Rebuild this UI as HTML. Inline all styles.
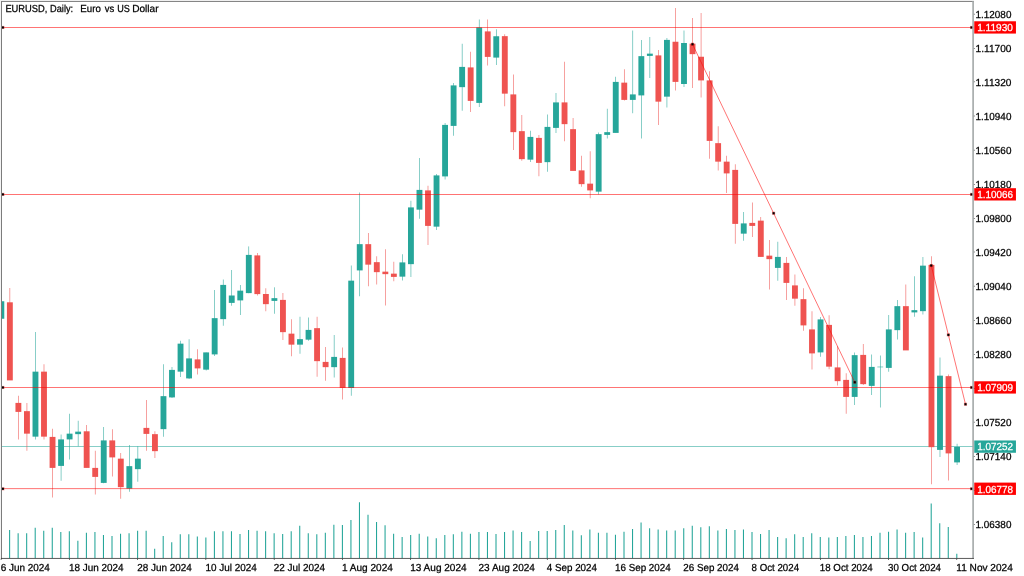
<!DOCTYPE html>
<html><head><meta charset="utf-8"><title>EURUSD Daily</title>
<style>html,body{margin:0;padding:0;background:#fff;overflow:hidden}svg{display:block}text{white-space:pre}</style></head>
<body>
<svg width="1024" height="576" viewBox="0 0 1024 576">
<rect width="1024" height="576" fill="#fff"/>
<defs><clipPath id="c"><rect x="1.5" y="1.5" width="972.00" height="556.90"/></clipPath></defs>
<g clip-path="url(#c)">
<rect x="1" y="446.39" width="973" height="0.55" fill="#26a69a"/>
<rect x="0.53" y="558.00" width="1.07" height="0.40" fill="#26a69a"/>
<rect x="9.07" y="530.00" width="1.07" height="28.40" fill="#26a69a"/>
<rect x="17.60" y="533.25" width="1.07" height="25.15" fill="#26a69a"/>
<rect x="26.13" y="533.25" width="1.07" height="25.15" fill="#26a69a"/>
<rect x="34.67" y="527.75" width="1.07" height="30.65" fill="#26a69a"/>
<rect x="43.20" y="530.75" width="1.07" height="27.65" fill="#26a69a"/>
<rect x="51.73" y="527.75" width="1.07" height="30.65" fill="#26a69a"/>
<rect x="60.27" y="532.00" width="1.07" height="26.40" fill="#26a69a"/>
<rect x="68.80" y="531.25" width="1.07" height="27.15" fill="#26a69a"/>
<rect x="77.33" y="540.75" width="1.07" height="17.65" fill="#26a69a"/>
<rect x="85.87" y="532.75" width="1.07" height="25.65" fill="#26a69a"/>
<rect x="94.40" y="532.00" width="1.07" height="26.40" fill="#26a69a"/>
<rect x="102.93" y="535.00" width="1.07" height="23.40" fill="#26a69a"/>
<rect x="111.47" y="536.00" width="1.07" height="22.40" fill="#26a69a"/>
<rect x="120.00" y="533.75" width="1.07" height="24.65" fill="#26a69a"/>
<rect x="128.53" y="533.25" width="1.07" height="25.15" fill="#26a69a"/>
<rect x="137.07" y="530.75" width="1.07" height="27.65" fill="#26a69a"/>
<rect x="145.60" y="530.75" width="1.07" height="27.65" fill="#26a69a"/>
<rect x="154.13" y="548.75" width="1.07" height="9.65" fill="#26a69a"/>
<rect x="162.67" y="536.00" width="1.07" height="22.40" fill="#26a69a"/>
<rect x="171.20" y="542.25" width="1.07" height="16.15" fill="#26a69a"/>
<rect x="179.73" y="534.25" width="1.07" height="24.15" fill="#26a69a"/>
<rect x="188.27" y="534.25" width="1.07" height="24.15" fill="#26a69a"/>
<rect x="196.80" y="536.50" width="1.07" height="21.90" fill="#26a69a"/>
<rect x="205.33" y="537.50" width="1.07" height="20.90" fill="#26a69a"/>
<rect x="213.87" y="531.25" width="1.07" height="27.15" fill="#26a69a"/>
<rect x="222.40" y="531.25" width="1.07" height="27.15" fill="#26a69a"/>
<rect x="230.93" y="531.25" width="1.07" height="27.15" fill="#26a69a"/>
<rect x="239.47" y="534.00" width="1.07" height="24.40" fill="#26a69a"/>
<rect x="248.00" y="530.00" width="1.07" height="28.40" fill="#26a69a"/>
<rect x="256.53" y="530.75" width="1.07" height="27.65" fill="#26a69a"/>
<rect x="265.07" y="531.25" width="1.07" height="27.15" fill="#26a69a"/>
<rect x="273.60" y="533.25" width="1.07" height="25.15" fill="#26a69a"/>
<rect x="282.13" y="534.00" width="1.07" height="24.40" fill="#26a69a"/>
<rect x="290.67" y="531.25" width="1.07" height="27.15" fill="#26a69a"/>
<rect x="299.20" y="525.75" width="1.07" height="32.65" fill="#26a69a"/>
<rect x="307.73" y="533.25" width="1.07" height="25.15" fill="#26a69a"/>
<rect x="316.27" y="534.25" width="1.07" height="24.15" fill="#26a69a"/>
<rect x="324.80" y="532.75" width="1.07" height="25.65" fill="#26a69a"/>
<rect x="333.33" y="524.75" width="1.07" height="33.65" fill="#26a69a"/>
<rect x="341.87" y="525.00" width="1.07" height="33.40" fill="#26a69a"/>
<rect x="350.40" y="520.00" width="1.07" height="38.40" fill="#26a69a"/>
<rect x="358.93" y="502.25" width="1.07" height="56.15" fill="#26a69a"/>
<rect x="367.47" y="514.75" width="1.07" height="43.65" fill="#26a69a"/>
<rect x="376.00" y="522.00" width="1.07" height="36.40" fill="#26a69a"/>
<rect x="384.53" y="525.25" width="1.07" height="33.15" fill="#26a69a"/>
<rect x="393.07" y="533.75" width="1.07" height="24.65" fill="#26a69a"/>
<rect x="401.60" y="537.00" width="1.07" height="21.40" fill="#26a69a"/>
<rect x="410.13" y="535.00" width="1.07" height="23.40" fill="#26a69a"/>
<rect x="418.67" y="533.75" width="1.07" height="24.65" fill="#26a69a"/>
<rect x="427.20" y="536.50" width="1.07" height="21.90" fill="#26a69a"/>
<rect x="435.73" y="538.25" width="1.07" height="20.15" fill="#26a69a"/>
<rect x="444.27" y="535.00" width="1.07" height="23.40" fill="#26a69a"/>
<rect x="452.80" y="534.25" width="1.07" height="24.15" fill="#26a69a"/>
<rect x="461.33" y="531.75" width="1.07" height="26.65" fill="#26a69a"/>
<rect x="469.87" y="533.75" width="1.07" height="24.65" fill="#26a69a"/>
<rect x="478.40" y="532.00" width="1.07" height="26.40" fill="#26a69a"/>
<rect x="486.93" y="532.00" width="1.07" height="26.40" fill="#26a69a"/>
<rect x="495.47" y="534.00" width="1.07" height="24.40" fill="#26a69a"/>
<rect x="504.00" y="532.00" width="1.07" height="26.40" fill="#26a69a"/>
<rect x="512.53" y="530.50" width="1.07" height="27.90" fill="#26a69a"/>
<rect x="521.07" y="532.00" width="1.07" height="26.40" fill="#26a69a"/>
<rect x="529.60" y="541.00" width="1.07" height="17.40" fill="#26a69a"/>
<rect x="538.13" y="531.00" width="1.07" height="27.40" fill="#26a69a"/>
<rect x="546.67" y="531.00" width="1.07" height="27.40" fill="#26a69a"/>
<rect x="555.20" y="530.00" width="1.07" height="28.40" fill="#26a69a"/>
<rect x="563.73" y="525.00" width="1.07" height="33.40" fill="#26a69a"/>
<rect x="572.27" y="530.50" width="1.07" height="27.90" fill="#26a69a"/>
<rect x="580.80" y="535.25" width="1.07" height="23.15" fill="#26a69a"/>
<rect x="589.33" y="529.50" width="1.07" height="28.90" fill="#26a69a"/>
<rect x="597.87" y="532.75" width="1.07" height="25.65" fill="#26a69a"/>
<rect x="606.40" y="532.75" width="1.07" height="25.65" fill="#26a69a"/>
<rect x="614.93" y="534.75" width="1.07" height="23.65" fill="#26a69a"/>
<rect x="623.47" y="531.75" width="1.07" height="26.65" fill="#26a69a"/>
<rect x="632.00" y="529.00" width="1.07" height="29.40" fill="#26a69a"/>
<rect x="640.53" y="522.50" width="1.07" height="35.90" fill="#26a69a"/>
<rect x="649.07" y="528.25" width="1.07" height="30.15" fill="#26a69a"/>
<rect x="657.60" y="529.50" width="1.07" height="28.90" fill="#26a69a"/>
<rect x="666.13" y="530.50" width="1.07" height="27.90" fill="#26a69a"/>
<rect x="674.67" y="530.50" width="1.07" height="27.90" fill="#26a69a"/>
<rect x="683.20" y="528.25" width="1.07" height="30.15" fill="#26a69a"/>
<rect x="691.73" y="525.75" width="1.07" height="32.65" fill="#26a69a"/>
<rect x="700.27" y="527.25" width="1.07" height="31.15" fill="#26a69a"/>
<rect x="708.80" y="526.25" width="1.07" height="32.15" fill="#26a69a"/>
<rect x="717.33" y="530.50" width="1.07" height="27.90" fill="#26a69a"/>
<rect x="725.87" y="529.00" width="1.07" height="29.40" fill="#26a69a"/>
<rect x="734.40" y="530.00" width="1.07" height="28.40" fill="#26a69a"/>
<rect x="742.93" y="529.50" width="1.07" height="28.90" fill="#26a69a"/>
<rect x="751.47" y="532.00" width="1.07" height="26.40" fill="#26a69a"/>
<rect x="760.00" y="534.00" width="1.07" height="24.40" fill="#26a69a"/>
<rect x="768.53" y="530.00" width="1.07" height="28.40" fill="#26a69a"/>
<rect x="777.07" y="537.00" width="1.07" height="21.40" fill="#26a69a"/>
<rect x="785.60" y="538.25" width="1.07" height="20.15" fill="#26a69a"/>
<rect x="794.13" y="534.25" width="1.07" height="24.15" fill="#26a69a"/>
<rect x="802.67" y="537.00" width="1.07" height="21.40" fill="#26a69a"/>
<rect x="811.20" y="533.25" width="1.07" height="25.15" fill="#26a69a"/>
<rect x="819.73" y="537.00" width="1.07" height="21.40" fill="#26a69a"/>
<rect x="828.27" y="537.50" width="1.07" height="20.90" fill="#26a69a"/>
<rect x="836.80" y="537.00" width="1.07" height="21.40" fill="#26a69a"/>
<rect x="845.33" y="536.00" width="1.07" height="22.40" fill="#26a69a"/>
<rect x="853.87" y="535.00" width="1.07" height="23.40" fill="#26a69a"/>
<rect x="862.40" y="537.00" width="1.07" height="21.40" fill="#26a69a"/>
<rect x="870.93" y="536.00" width="1.07" height="22.40" fill="#26a69a"/>
<rect x="879.47" y="532.75" width="1.07" height="25.65" fill="#26a69a"/>
<rect x="888.00" y="531.75" width="1.07" height="26.65" fill="#26a69a"/>
<rect x="896.53" y="529.50" width="1.07" height="28.90" fill="#26a69a"/>
<rect x="905.07" y="532.75" width="1.07" height="25.65" fill="#26a69a"/>
<rect x="913.60" y="532.00" width="1.07" height="26.40" fill="#26a69a"/>
<rect x="922.13" y="537.50" width="1.07" height="20.90" fill="#26a69a"/>
<rect x="930.67" y="503.50" width="1.07" height="54.90" fill="#26a69a"/>
<rect x="939.20" y="523.25" width="1.07" height="35.15" fill="#26a69a"/>
<rect x="947.73" y="527.00" width="1.07" height="31.40" fill="#26a69a"/>
<rect x="956.27" y="553.75" width="1.07" height="4.65" fill="#26a69a"/>
<rect x="1.06" y="301.25" width="0.55" height="17.50" fill="#26a69a"/>
<rect x="-1.60" y="301.25" width="5.87" height="17.50" fill="#26a69a"/>
<rect x="9.59" y="288.00" width="0.55" height="92.00" fill="#ef5350"/>
<rect x="6.93" y="302.30" width="5.87" height="78.10" fill="#ef5350"/>
<rect x="18.12" y="395.75" width="0.55" height="43.75" fill="#ef5350"/>
<rect x="15.46" y="402.90" width="5.87" height="9.00" fill="#ef5350"/>
<rect x="26.66" y="403.00" width="0.55" height="47.75" fill="#ef5350"/>
<rect x="24.00" y="411.15" width="5.87" height="22.50" fill="#ef5350"/>
<rect x="35.19" y="332.00" width="0.55" height="107.50" fill="#26a69a"/>
<rect x="32.53" y="371.65" width="5.87" height="65.00" fill="#26a69a"/>
<rect x="43.72" y="364.25" width="0.55" height="75.25" fill="#ef5350"/>
<rect x="41.06" y="371.65" width="5.87" height="65.00" fill="#ef5350"/>
<rect x="52.26" y="428.75" width="0.55" height="68.75" fill="#ef5350"/>
<rect x="49.60" y="436.90" width="5.87" height="31.00" fill="#ef5350"/>
<rect x="60.79" y="434.50" width="0.55" height="46.25" fill="#26a69a"/>
<rect x="58.13" y="439.40" width="5.87" height="26.50" fill="#26a69a"/>
<rect x="69.32" y="413.75" width="0.55" height="45.75" fill="#26a69a"/>
<rect x="66.66" y="433.65" width="5.87" height="5.75" fill="#26a69a"/>
<rect x="77.86" y="420.75" width="0.55" height="25.50" fill="#26a69a"/>
<rect x="75.20" y="431.65" width="5.87" height="2.50" fill="#26a69a"/>
<rect x="86.39" y="425.00" width="0.55" height="42.50" fill="#ef5350"/>
<rect x="83.73" y="431.30" width="5.87" height="36.60" fill="#ef5350"/>
<rect x="94.92" y="450.75" width="0.55" height="43.75" fill="#ef5350"/>
<rect x="92.26" y="467.90" width="5.87" height="9.00" fill="#ef5350"/>
<rect x="103.46" y="427.00" width="0.55" height="56.25" fill="#26a69a"/>
<rect x="100.80" y="440.40" width="5.87" height="42.50" fill="#26a69a"/>
<rect x="111.99" y="429.25" width="0.55" height="47.25" fill="#ef5350"/>
<rect x="109.33" y="440.40" width="5.87" height="17.00" fill="#ef5350"/>
<rect x="120.52" y="453.00" width="0.55" height="45.75" fill="#ef5350"/>
<rect x="117.86" y="458.65" width="5.87" height="28.50" fill="#ef5350"/>
<rect x="129.06" y="445.00" width="0.55" height="46.75" fill="#26a69a"/>
<rect x="126.40" y="466.15" width="5.87" height="22.50" fill="#26a69a"/>
<rect x="137.59" y="446.25" width="0.55" height="35.50" fill="#26a69a"/>
<rect x="134.93" y="458.65" width="5.87" height="10.50" fill="#26a69a"/>
<rect x="146.12" y="400.00" width="0.55" height="50.75" fill="#ef5350"/>
<rect x="143.46" y="427.90" width="5.87" height="6.00" fill="#ef5350"/>
<rect x="154.66" y="431.25" width="0.55" height="26.75" fill="#ef5350"/>
<rect x="152.00" y="434.15" width="5.87" height="17.00" fill="#ef5350"/>
<rect x="163.19" y="364.25" width="0.55" height="72.50" fill="#26a69a"/>
<rect x="160.53" y="396.15" width="5.87" height="33.00" fill="#26a69a"/>
<rect x="171.72" y="367.00" width="0.55" height="31.00" fill="#26a69a"/>
<rect x="169.06" y="369.90" width="5.87" height="27.50" fill="#26a69a"/>
<rect x="180.26" y="340.75" width="0.55" height="36.25" fill="#26a69a"/>
<rect x="177.60" y="343.65" width="5.87" height="28.00" fill="#26a69a"/>
<rect x="188.79" y="339.25" width="0.55" height="39.75" fill="#26a69a"/>
<rect x="186.13" y="358.40" width="5.87" height="20.00" fill="#26a69a"/>
<rect x="197.32" y="349.25" width="0.55" height="25.25" fill="#ef5350"/>
<rect x="194.66" y="359.40" width="5.87" height="9.00" fill="#ef5350"/>
<rect x="205.86" y="352.50" width="0.55" height="18.00" fill="#26a69a"/>
<rect x="203.20" y="352.40" width="5.87" height="17.25" fill="#26a69a"/>
<rect x="214.39" y="290.00" width="0.55" height="66.00" fill="#26a69a"/>
<rect x="211.73" y="318.15" width="5.87" height="36.25" fill="#26a69a"/>
<rect x="222.92" y="279.50" width="0.55" height="46.25" fill="#26a69a"/>
<rect x="220.26" y="284.90" width="5.87" height="34.25" fill="#26a69a"/>
<rect x="231.46" y="270.00" width="0.55" height="35.75" fill="#26a69a"/>
<rect x="228.80" y="295.50" width="5.87" height="7.40" fill="#26a69a"/>
<rect x="239.99" y="285.00" width="0.55" height="30.00" fill="#26a69a"/>
<rect x="237.33" y="290.65" width="5.87" height="9.75" fill="#26a69a"/>
<rect x="248.52" y="246.40" width="0.55" height="46.85" fill="#26a69a"/>
<rect x="245.86" y="254.90" width="5.87" height="38.20" fill="#26a69a"/>
<rect x="257.06" y="253.00" width="0.55" height="42.50" fill="#ef5350"/>
<rect x="254.40" y="255.40" width="5.87" height="38.70" fill="#ef5350"/>
<rect x="265.59" y="288.25" width="0.55" height="23.00" fill="#ef5350"/>
<rect x="262.93" y="294.00" width="5.87" height="10.15" fill="#ef5350"/>
<rect x="274.12" y="287.30" width="0.55" height="26.45" fill="#26a69a"/>
<rect x="271.46" y="298.15" width="5.87" height="2.75" fill="#26a69a"/>
<rect x="282.66" y="293.00" width="0.55" height="47.00" fill="#ef5350"/>
<rect x="280.00" y="299.90" width="5.87" height="32.25" fill="#ef5350"/>
<rect x="291.19" y="319.25" width="0.55" height="37.00" fill="#ef5350"/>
<rect x="288.53" y="333.65" width="5.87" height="11.00" fill="#ef5350"/>
<rect x="299.72" y="316.75" width="0.55" height="37.00" fill="#26a69a"/>
<rect x="297.06" y="339.15" width="5.87" height="5.50" fill="#26a69a"/>
<rect x="308.26" y="317.50" width="0.55" height="23.25" fill="#26a69a"/>
<rect x="305.60" y="329.90" width="5.87" height="9.75" fill="#26a69a"/>
<rect x="316.79" y="316.75" width="0.55" height="60.00" fill="#ef5350"/>
<rect x="314.13" y="328.15" width="5.87" height="33.00" fill="#ef5350"/>
<rect x="325.32" y="347.00" width="0.55" height="33.75" fill="#ef5350"/>
<rect x="322.66" y="361.90" width="5.87" height="5.25" fill="#ef5350"/>
<rect x="333.86" y="335.00" width="0.55" height="42.50" fill="#26a69a"/>
<rect x="331.20" y="356.90" width="5.87" height="10.25" fill="#26a69a"/>
<rect x="342.39" y="347.50" width="0.55" height="52.00" fill="#ef5350"/>
<rect x="339.73" y="357.90" width="5.87" height="30.00" fill="#ef5350"/>
<rect x="350.92" y="265.50" width="0.55" height="130.25" fill="#26a69a"/>
<rect x="348.26" y="280.65" width="5.87" height="107.35" fill="#26a69a"/>
<rect x="359.46" y="192.50" width="0.55" height="103.75" fill="#26a69a"/>
<rect x="356.80" y="244.15" width="5.87" height="26.25" fill="#26a69a"/>
<rect x="367.99" y="233.00" width="0.55" height="53.25" fill="#ef5350"/>
<rect x="365.33" y="244.15" width="5.87" height="20.50" fill="#ef5350"/>
<rect x="376.52" y="256.25" width="0.55" height="28.25" fill="#ef5350"/>
<rect x="373.86" y="262.15" width="5.87" height="10.00" fill="#ef5350"/>
<rect x="385.06" y="249.25" width="0.55" height="56.25" fill="#ef5350"/>
<rect x="382.40" y="271.65" width="5.87" height="2.50" fill="#ef5350"/>
<rect x="393.59" y="261.75" width="0.55" height="19.50" fill="#ef5350"/>
<rect x="390.93" y="273.65" width="5.87" height="3.25" fill="#ef5350"/>
<rect x="402.12" y="254.25" width="0.55" height="26.25" fill="#26a69a"/>
<rect x="399.46" y="262.40" width="5.87" height="14.25" fill="#26a69a"/>
<rect x="410.66" y="200.75" width="0.55" height="76.25" fill="#26a69a"/>
<rect x="408.00" y="207.40" width="5.87" height="56.75" fill="#26a69a"/>
<rect x="419.19" y="158.00" width="0.55" height="60.75" fill="#26a69a"/>
<rect x="416.53" y="189.90" width="5.87" height="19.75" fill="#26a69a"/>
<rect x="427.72" y="185.75" width="0.55" height="59.25" fill="#ef5350"/>
<rect x="425.06" y="190.40" width="5.87" height="35.50" fill="#ef5350"/>
<rect x="436.26" y="174.00" width="0.55" height="56.00" fill="#26a69a"/>
<rect x="433.60" y="175.40" width="5.87" height="51.25" fill="#26a69a"/>
<rect x="444.79" y="123.00" width="0.55" height="56.50" fill="#26a69a"/>
<rect x="442.13" y="124.90" width="5.87" height="51.50" fill="#26a69a"/>
<rect x="453.32" y="83.00" width="0.55" height="52.75" fill="#26a69a"/>
<rect x="450.66" y="85.40" width="5.87" height="40.50" fill="#26a69a"/>
<rect x="461.86" y="43.75" width="0.55" height="67.00" fill="#26a69a"/>
<rect x="459.20" y="66.90" width="5.87" height="20.25" fill="#26a69a"/>
<rect x="470.39" y="51.75" width="0.55" height="60.25" fill="#ef5350"/>
<rect x="467.73" y="67.40" width="5.87" height="33.50" fill="#ef5350"/>
<rect x="478.92" y="19.50" width="0.55" height="87.50" fill="#26a69a"/>
<rect x="476.26" y="27.40" width="5.87" height="75.50" fill="#26a69a"/>
<rect x="487.46" y="19.50" width="0.55" height="46.00" fill="#ef5350"/>
<rect x="484.80" y="31.40" width="5.87" height="25.50" fill="#ef5350"/>
<rect x="495.99" y="29.25" width="0.55" height="35.75" fill="#26a69a"/>
<rect x="493.33" y="36.25" width="5.87" height="21.35" fill="#26a69a"/>
<rect x="504.52" y="34.25" width="0.55" height="72.00" fill="#ef5350"/>
<rect x="501.86" y="36.15" width="5.87" height="57.50" fill="#ef5350"/>
<rect x="513.06" y="74.50" width="0.55" height="75.50" fill="#ef5350"/>
<rect x="510.40" y="94.40" width="5.87" height="37.75" fill="#ef5350"/>
<rect x="521.59" y="115.00" width="0.55" height="45.75" fill="#ef5350"/>
<rect x="518.93" y="131.15" width="5.87" height="28.00" fill="#ef5350"/>
<rect x="530.12" y="130.75" width="0.55" height="31.25" fill="#26a69a"/>
<rect x="527.46" y="136.90" width="5.87" height="22.75" fill="#26a69a"/>
<rect x="538.66" y="135.00" width="0.55" height="41.25" fill="#ef5350"/>
<rect x="536.00" y="137.90" width="5.87" height="25.00" fill="#ef5350"/>
<rect x="547.19" y="114.50" width="0.55" height="57.25" fill="#26a69a"/>
<rect x="544.53" y="126.90" width="5.87" height="35.25" fill="#26a69a"/>
<rect x="555.72" y="93.00" width="0.55" height="40.00" fill="#26a69a"/>
<rect x="553.06" y="102.40" width="5.87" height="25.50" fill="#26a69a"/>
<rect x="564.26" y="61.75" width="0.55" height="79.50" fill="#ef5350"/>
<rect x="561.60" y="102.40" width="5.87" height="21.75" fill="#ef5350"/>
<rect x="572.79" y="118.00" width="0.55" height="52.50" fill="#ef5350"/>
<rect x="570.13" y="129.15" width="5.87" height="41.75" fill="#ef5350"/>
<rect x="581.32" y="155.75" width="0.55" height="31.00" fill="#ef5350"/>
<rect x="578.66" y="170.40" width="5.87" height="13.75" fill="#ef5350"/>
<rect x="589.86" y="151.25" width="0.55" height="47.00" fill="#ef5350"/>
<rect x="587.20" y="183.65" width="5.87" height="6.75" fill="#ef5350"/>
<rect x="598.39" y="132.50" width="0.55" height="62.00" fill="#26a69a"/>
<rect x="595.73" y="134.15" width="5.87" height="57.50" fill="#26a69a"/>
<rect x="606.92" y="108.75" width="0.55" height="29.75" fill="#26a69a"/>
<rect x="604.26" y="132.15" width="5.87" height="2.75" fill="#26a69a"/>
<rect x="615.46" y="76.75" width="0.55" height="55.75" fill="#26a69a"/>
<rect x="612.80" y="81.90" width="5.87" height="51.00" fill="#26a69a"/>
<rect x="623.99" y="69.25" width="0.55" height="31.25" fill="#ef5350"/>
<rect x="621.33" y="82.65" width="5.87" height="17.25" fill="#ef5350"/>
<rect x="632.52" y="30.50" width="0.55" height="82.75" fill="#26a69a"/>
<rect x="629.86" y="94.40" width="5.87" height="5.50" fill="#26a69a"/>
<rect x="641.06" y="40.00" width="0.55" height="98.50" fill="#26a69a"/>
<rect x="638.40" y="56.15" width="5.87" height="39.25" fill="#26a69a"/>
<rect x="649.59" y="37.00" width="0.55" height="41.00" fill="#26a69a"/>
<rect x="646.93" y="53.65" width="5.87" height="2.25" fill="#26a69a"/>
<rect x="658.12" y="50.00" width="0.55" height="75.00" fill="#ef5350"/>
<rect x="655.46" y="55.40" width="5.87" height="46.25" fill="#ef5350"/>
<rect x="666.66" y="38.00" width="0.55" height="69.50" fill="#26a69a"/>
<rect x="664.00" y="39.90" width="5.87" height="56.75" fill="#26a69a"/>
<rect x="675.19" y="8.00" width="0.55" height="82.50" fill="#ef5350"/>
<rect x="672.53" y="41.75" width="5.87" height="40.15" fill="#ef5350"/>
<rect x="683.72" y="30.50" width="0.55" height="56.50" fill="#26a69a"/>
<rect x="681.06" y="43.00" width="5.87" height="41.00" fill="#26a69a"/>
<rect x="692.26" y="18.00" width="0.55" height="70.00" fill="#ef5350"/>
<rect x="689.60" y="43.65" width="5.87" height="10.50" fill="#ef5350"/>
<rect x="700.79" y="13.00" width="0.55" height="84.50" fill="#ef5350"/>
<rect x="698.13" y="56.75" width="5.87" height="23.65" fill="#ef5350"/>
<rect x="709.32" y="71.25" width="0.55" height="87.50" fill="#ef5350"/>
<rect x="706.66" y="80.40" width="5.87" height="60.50" fill="#ef5350"/>
<rect x="717.86" y="126.25" width="0.55" height="44.25" fill="#ef5350"/>
<rect x="715.20" y="143.15" width="5.87" height="18.50" fill="#ef5350"/>
<rect x="726.39" y="155.75" width="0.55" height="37.25" fill="#ef5350"/>
<rect x="723.73" y="161.65" width="5.87" height="11.75" fill="#ef5350"/>
<rect x="734.92" y="164.25" width="0.55" height="79.50" fill="#ef5350"/>
<rect x="732.26" y="169.90" width="5.87" height="54.00" fill="#ef5350"/>
<rect x="743.46" y="212.00" width="0.55" height="28.75" fill="#26a69a"/>
<rect x="740.80" y="223.40" width="5.87" height="10.25" fill="#26a69a"/>
<rect x="751.99" y="202.50" width="0.55" height="34.50" fill="#ef5350"/>
<rect x="749.33" y="222.90" width="5.87" height="3.00" fill="#ef5350"/>
<rect x="760.52" y="217.00" width="0.55" height="39.50" fill="#ef5350"/>
<rect x="757.86" y="220.65" width="5.87" height="36.25" fill="#ef5350"/>
<rect x="769.06" y="240.00" width="0.55" height="49.50" fill="#ef5350"/>
<rect x="766.40" y="255.65" width="5.87" height="3.50" fill="#ef5350"/>
<rect x="777.59" y="241.75" width="0.55" height="39.00" fill="#26a69a"/>
<rect x="774.93" y="256.90" width="5.87" height="11.00" fill="#26a69a"/>
<rect x="786.12" y="257.00" width="0.55" height="43.00" fill="#ef5350"/>
<rect x="783.46" y="262.90" width="5.87" height="20.00" fill="#ef5350"/>
<rect x="794.66" y="274.50" width="0.55" height="31.25" fill="#ef5350"/>
<rect x="792.00" y="285.40" width="5.87" height="13.25" fill="#ef5350"/>
<rect x="803.19" y="288.25" width="0.55" height="42.50" fill="#ef5350"/>
<rect x="800.53" y="299.15" width="5.87" height="26.25" fill="#ef5350"/>
<rect x="811.72" y="311.25" width="0.55" height="58.25" fill="#ef5350"/>
<rect x="809.06" y="329.40" width="5.87" height="24.00" fill="#ef5350"/>
<rect x="820.26" y="317.00" width="0.55" height="39.75" fill="#26a69a"/>
<rect x="817.60" y="319.40" width="5.87" height="33.00" fill="#26a69a"/>
<rect x="828.79" y="315.25" width="0.55" height="54.00" fill="#ef5350"/>
<rect x="826.13" y="324.90" width="5.87" height="41.75" fill="#ef5350"/>
<rect x="837.32" y="346.25" width="0.55" height="39.25" fill="#ef5350"/>
<rect x="834.66" y="367.40" width="5.87" height="13.75" fill="#ef5350"/>
<rect x="845.86" y="373.25" width="0.55" height="40.50" fill="#ef5350"/>
<rect x="843.20" y="379.90" width="5.87" height="17.00" fill="#ef5350"/>
<rect x="854.39" y="352.50" width="0.55" height="52.50" fill="#26a69a"/>
<rect x="851.73" y="355.15" width="5.87" height="41.75" fill="#26a69a"/>
<rect x="862.92" y="344.00" width="0.55" height="41.00" fill="#ef5350"/>
<rect x="860.26" y="354.90" width="5.87" height="29.25" fill="#ef5350"/>
<rect x="871.46" y="354.50" width="0.55" height="40.50" fill="#26a69a"/>
<rect x="868.80" y="366.90" width="5.87" height="19.00" fill="#26a69a"/>
<rect x="879.99" y="355.50" width="0.55" height="52.00" fill="#26a69a"/>
<rect x="877.33" y="366.70" width="5.87" height="0.55" fill="#26a69a"/>
<rect x="888.52" y="315.00" width="0.55" height="56.75" fill="#26a69a"/>
<rect x="885.86" y="329.40" width="5.87" height="38.50" fill="#26a69a"/>
<rect x="897.06" y="300.00" width="0.55" height="39.50" fill="#26a69a"/>
<rect x="894.40" y="306.15" width="5.87" height="24.00" fill="#26a69a"/>
<rect x="905.59" y="284.50" width="0.55" height="65.50" fill="#ef5350"/>
<rect x="902.93" y="306.15" width="5.87" height="44.25" fill="#ef5350"/>
<rect x="914.12" y="276.25" width="0.55" height="40.50" fill="#26a69a"/>
<rect x="911.46" y="310.15" width="5.87" height="2.25" fill="#26a69a"/>
<rect x="922.66" y="257.00" width="0.55" height="57.50" fill="#26a69a"/>
<rect x="920.00" y="265.65" width="5.87" height="45.50" fill="#26a69a"/>
<rect x="931.19" y="256.25" width="0.55" height="228.00" fill="#ef5350"/>
<rect x="928.53" y="264.90" width="5.87" height="182.25" fill="#ef5350"/>
<rect x="939.72" y="357.50" width="0.55" height="99.50" fill="#26a69a"/>
<rect x="937.06" y="375.65" width="5.87" height="74.25" fill="#26a69a"/>
<rect x="948.26" y="374.50" width="0.55" height="106.00" fill="#ef5350"/>
<rect x="945.60" y="376.15" width="5.87" height="77.25" fill="#ef5350"/>
<rect x="956.79" y="443.75" width="0.55" height="21.25" fill="#26a69a"/>
<rect x="954.13" y="446.90" width="5.87" height="15.50" fill="#26a69a"/>
<rect x="1" y="27.19" width="973" height="0.55" fill="#ff0000"/>
<rect x="1" y="194.12" width="973" height="0.55" fill="#ff0000"/>
<rect x="1" y="387.19" width="973" height="0.55" fill="#ff0000"/>
<rect x="1" y="488.52" width="973" height="0.55" fill="#ff0000"/>
<line x1="692.50" y1="44.25" x2="854.75" y2="382.25" stroke="#ff0000" stroke-width="0.55"/>
<rect x="690.95" y="42.70" width="3.1" height="3.1" fill="#d00000" opacity="0.45"/>
<rect x="691.45" y="43.20" width="2.1" height="2.1" fill="#000"/>
<rect x="772.08" y="211.70" width="3.1" height="3.1" fill="#d00000" opacity="0.45"/>
<rect x="772.58" y="212.20" width="2.1" height="2.1" fill="#000"/>
<rect x="853.20" y="380.70" width="3.1" height="3.1" fill="#d00000" opacity="0.45"/>
<rect x="853.70" y="381.20" width="2.1" height="2.1" fill="#000"/>
<line x1="931.25" y1="265.50" x2="965.50" y2="404.25" stroke="#ff0000" stroke-width="0.55"/>
<rect x="929.70" y="263.95" width="3.1" height="3.1" fill="#d00000" opacity="0.45"/>
<rect x="930.20" y="264.45" width="2.1" height="2.1" fill="#000"/>
<rect x="946.83" y="333.32" width="3.1" height="3.1" fill="#d00000" opacity="0.45"/>
<rect x="947.33" y="333.82" width="2.1" height="2.1" fill="#000"/>
<rect x="963.95" y="402.70" width="3.1" height="3.1" fill="#d00000" opacity="0.45"/>
<rect x="964.45" y="403.20" width="2.1" height="2.1" fill="#000"/>
</g>
<rect x="1.4" y="25.92" width="3.0" height="3.1" fill="#d00000" opacity="0.45"/>
<rect x="1.8" y="26.42" width="2.1" height="2.1" fill="#000"/>
<rect x="970.0" y="25.92" width="3.1" height="3.1" fill="#d00000" opacity="0.45"/>
<rect x="970.5" y="26.42" width="2.1" height="2.1" fill="#000"/>
<rect x="1.4" y="192.85" width="3.0" height="3.1" fill="#d00000" opacity="0.45"/>
<rect x="1.8" y="193.35" width="2.1" height="2.1" fill="#000"/>
<rect x="970.0" y="192.85" width="3.1" height="3.1" fill="#d00000" opacity="0.45"/>
<rect x="970.5" y="193.35" width="2.1" height="2.1" fill="#000"/>
<rect x="1.4" y="385.92" width="3.0" height="3.1" fill="#d00000" opacity="0.45"/>
<rect x="1.8" y="386.42" width="2.1" height="2.1" fill="#000"/>
<rect x="970.0" y="385.92" width="3.1" height="3.1" fill="#d00000" opacity="0.45"/>
<rect x="970.5" y="386.42" width="2.1" height="2.1" fill="#000"/>
<rect x="1.4" y="487.25" width="3.0" height="3.1" fill="#d00000" opacity="0.45"/>
<rect x="1.8" y="487.75" width="2.1" height="2.1" fill="#000"/>
<rect x="970.0" y="487.25" width="3.1" height="3.1" fill="#d00000" opacity="0.45"/>
<rect x="970.5" y="487.75" width="2.1" height="2.1" fill="#000"/>
<rect x="0" y="0" width="974" height="1" fill="#f0f0f0"/>
<rect x="0" y="0" width="1" height="559" fill="#f4f4f4"/>
<rect x="1" y="1" width="973" height="1" fill="#858585"/>
<rect x="1" y="1" width="1" height="557.80" fill="#7c7c7c"/>
<rect x="972.3" y="1" width="1.6" height="557.80" fill="#a3a8a8"/>
<rect x="1" y="557.95" width="972.9" height="0.8" fill="#333"/>
<g font-family="Liberation Sans, sans-serif" font-size="10.2" stroke-width="0.25" text-rendering="geometricPrecision">
<rect x="973.9" y="13.85" width="0.9" height="0.55" fill="#000"/>
<text x="975.60" y="17.88" textLength="35.79" lengthAdjust="spacingAndGlyphs" fill="#000" stroke="#000">1.12080</text>
<rect x="973.9" y="47.99" width="0.9" height="0.55" fill="#000"/>
<text x="975.60" y="52.02" textLength="35.79" lengthAdjust="spacingAndGlyphs" fill="#000" stroke="#000">1.11700</text>
<rect x="973.9" y="81.59" width="0.9" height="0.55" fill="#000"/>
<text x="975.60" y="85.62" textLength="35.79" lengthAdjust="spacingAndGlyphs" fill="#000" stroke="#000">1.11320</text>
<rect x="973.9" y="115.72" width="0.9" height="0.55" fill="#000"/>
<text x="975.60" y="119.75" textLength="35.79" lengthAdjust="spacingAndGlyphs" fill="#000" stroke="#000">1.10940</text>
<rect x="973.9" y="149.85" width="0.9" height="0.55" fill="#000"/>
<text x="975.60" y="153.88" textLength="35.79" lengthAdjust="spacingAndGlyphs" fill="#000" stroke="#000">1.10560</text>
<rect x="973.9" y="183.99" width="0.9" height="0.55" fill="#000"/>
<text x="975.60" y="188.02" textLength="35.79" lengthAdjust="spacingAndGlyphs" fill="#000" stroke="#000">1.10180</text>
<rect x="973.9" y="218.12" width="0.9" height="0.55" fill="#000"/>
<text x="975.60" y="222.15" textLength="35.79" lengthAdjust="spacingAndGlyphs" fill="#000" stroke="#000">1.09800</text>
<rect x="973.9" y="251.72" width="0.9" height="0.55" fill="#000"/>
<text x="975.60" y="255.75" textLength="35.79" lengthAdjust="spacingAndGlyphs" fill="#000" stroke="#000">1.09420</text>
<rect x="973.9" y="285.85" width="0.9" height="0.55" fill="#000"/>
<text x="975.60" y="289.88" textLength="35.79" lengthAdjust="spacingAndGlyphs" fill="#000" stroke="#000">1.09040</text>
<rect x="973.9" y="319.99" width="0.9" height="0.55" fill="#000"/>
<text x="975.60" y="324.02" textLength="35.79" lengthAdjust="spacingAndGlyphs" fill="#000" stroke="#000">1.08660</text>
<rect x="973.9" y="354.12" width="0.9" height="0.55" fill="#000"/>
<text x="975.60" y="358.15" textLength="35.79" lengthAdjust="spacingAndGlyphs" fill="#000" stroke="#000">1.08280</text>
<rect x="973.9" y="388.25" width="0.9" height="0.55" fill="#000"/>
<text x="975.60" y="392.28" textLength="35.79" lengthAdjust="spacingAndGlyphs" fill="#000" stroke="#000">1.07900</text>
<rect x="973.9" y="421.85" width="0.9" height="0.55" fill="#000"/>
<text x="975.60" y="425.88" textLength="35.79" lengthAdjust="spacingAndGlyphs" fill="#000" stroke="#000">1.07520</text>
<rect x="973.9" y="455.99" width="0.9" height="0.55" fill="#000"/>
<text x="975.60" y="460.02" textLength="35.79" lengthAdjust="spacingAndGlyphs" fill="#000" stroke="#000">1.07140</text>
<rect x="973.9" y="490.12" width="0.9" height="0.55" fill="#000"/>
<text x="975.60" y="494.15" textLength="35.79" lengthAdjust="spacingAndGlyphs" fill="#000" stroke="#000">1.06760</text>
<rect x="973.9" y="524.25" width="0.9" height="0.55" fill="#000"/>
<text x="975.60" y="528.28" textLength="35.79" lengthAdjust="spacingAndGlyphs" fill="#000" stroke="#000">1.06380</text>
<rect x="0.80" y="558.70" width="0.55" height="1.3" fill="#000"/>
<text x="0.63" y="570.80" textLength="49.17" lengthAdjust="spacingAndGlyphs" fill="#000" stroke="#000">6 Jun 2024</text>
<rect x="69.07" y="558.70" width="0.55" height="1.3" fill="#000"/>
<text x="68.90" y="570.80" textLength="54.63" lengthAdjust="spacingAndGlyphs" fill="#000" stroke="#000">18 Jun 2024</text>
<rect x="137.34" y="558.70" width="0.55" height="1.3" fill="#000"/>
<text x="137.17" y="570.80" textLength="54.63" lengthAdjust="spacingAndGlyphs" fill="#000" stroke="#000">28 Jun 2024</text>
<rect x="205.60" y="558.70" width="0.55" height="1.3" fill="#000"/>
<text x="205.43" y="570.80" textLength="51.33" lengthAdjust="spacingAndGlyphs" fill="#000" stroke="#000">10 Jul 2024</text>
<rect x="273.87" y="558.70" width="0.55" height="1.3" fill="#000"/>
<text x="273.70" y="570.80" textLength="51.33" lengthAdjust="spacingAndGlyphs" fill="#000" stroke="#000">22 Jul 2024</text>
<rect x="342.14" y="558.70" width="0.55" height="1.3" fill="#000"/>
<text x="341.97" y="570.80" textLength="50.94" lengthAdjust="spacingAndGlyphs" fill="#000" stroke="#000">1 Aug 2024</text>
<rect x="410.40" y="558.70" width="0.55" height="1.3" fill="#000"/>
<text x="410.23" y="570.80" textLength="56.39" lengthAdjust="spacingAndGlyphs" fill="#000" stroke="#000">13 Aug 2024</text>
<rect x="478.67" y="558.70" width="0.55" height="1.3" fill="#000"/>
<text x="478.50" y="570.80" textLength="56.39" lengthAdjust="spacingAndGlyphs" fill="#000" stroke="#000">23 Aug 2024</text>
<rect x="546.94" y="558.70" width="0.55" height="1.3" fill="#000"/>
<text x="546.77" y="570.80" textLength="50.21" lengthAdjust="spacingAndGlyphs" fill="#000" stroke="#000">4 Sep 2024</text>
<rect x="615.20" y="558.70" width="0.55" height="1.3" fill="#000"/>
<text x="615.03" y="570.80" textLength="55.66" lengthAdjust="spacingAndGlyphs" fill="#000" stroke="#000">16 Sep 2024</text>
<rect x="683.47" y="558.70" width="0.55" height="1.3" fill="#000"/>
<text x="683.30" y="570.80" textLength="55.66" lengthAdjust="spacingAndGlyphs" fill="#000" stroke="#000">26 Sep 2024</text>
<rect x="751.74" y="558.70" width="0.55" height="1.3" fill="#000"/>
<text x="751.57" y="570.80" textLength="47.48" lengthAdjust="spacingAndGlyphs" fill="#000" stroke="#000">8 Oct 2024</text>
<rect x="820.00" y="558.70" width="0.55" height="1.3" fill="#000"/>
<text x="819.83" y="570.80" textLength="52.93" lengthAdjust="spacingAndGlyphs" fill="#000" stroke="#000">18 Oct 2024</text>
<rect x="888.27" y="558.70" width="0.55" height="1.3" fill="#000"/>
<text x="888.10" y="570.80" textLength="52.93" lengthAdjust="spacingAndGlyphs" fill="#000" stroke="#000">30 Oct 2024</text>
<rect x="956.54" y="558.70" width="0.55" height="1.3" fill="#000"/>
<text x="956.37" y="570.80" textLength="56.38" lengthAdjust="spacingAndGlyphs" fill="#000" stroke="#000">11 Nov 2024</text>
<text x="5.40" y="12.00" textLength="42.00" lengthAdjust="spacingAndGlyphs" fill="#000" stroke="#000">EURUSD,</text>
<text x="50.10" y="12.00" textLength="23.00" lengthAdjust="spacingAndGlyphs" fill="#000" stroke="#000">Daily:</text>
<text x="80.30" y="12.00" textLength="20.50" lengthAdjust="spacingAndGlyphs" fill="#000" stroke="#000">Euro</text>
<text x="104.80" y="12.00" textLength="9.44" lengthAdjust="spacingAndGlyphs" fill="#000" stroke="#000">vs</text>
<text x="117.20" y="12.00" textLength="12.60" lengthAdjust="spacingAndGlyphs" fill="#000" stroke="#000">US</text>
<text x="132.20" y="12.00" textLength="26.40" lengthAdjust="spacingAndGlyphs" fill="#000" stroke="#000">Dollar</text>
<rect x="974.25" y="21.27" width="41.7" height="12.3" fill="#ff0000"/>
<text x="977.20" y="31.27" textLength="35.79" lengthAdjust="spacingAndGlyphs" fill="#fff" stroke="#fff">1.11930</text>
<rect x="974.25" y="188.20" width="41.7" height="12.3" fill="#ff0000"/>
<text x="977.20" y="198.20" textLength="35.79" lengthAdjust="spacingAndGlyphs" fill="#fff" stroke="#fff">1.10066</text>
<rect x="974.25" y="381.27" width="41.7" height="12.3" fill="#ff0000"/>
<text x="977.20" y="391.27" textLength="35.79" lengthAdjust="spacingAndGlyphs" fill="#fff" stroke="#fff">1.07909</text>
<rect x="974.25" y="482.60" width="41.7" height="12.3" fill="#ff0000"/>
<text x="977.20" y="492.60" textLength="35.79" lengthAdjust="spacingAndGlyphs" fill="#fff" stroke="#fff">1.06778</text>
<rect x="974.25" y="440.47" width="41.7" height="12.3" fill="#26a69a"/>
<text x="977.20" y="450.47" textLength="35.79" lengthAdjust="spacingAndGlyphs" fill="#fff" stroke="#fff">1.07252</text>
</g>
</svg>
</body></html>
